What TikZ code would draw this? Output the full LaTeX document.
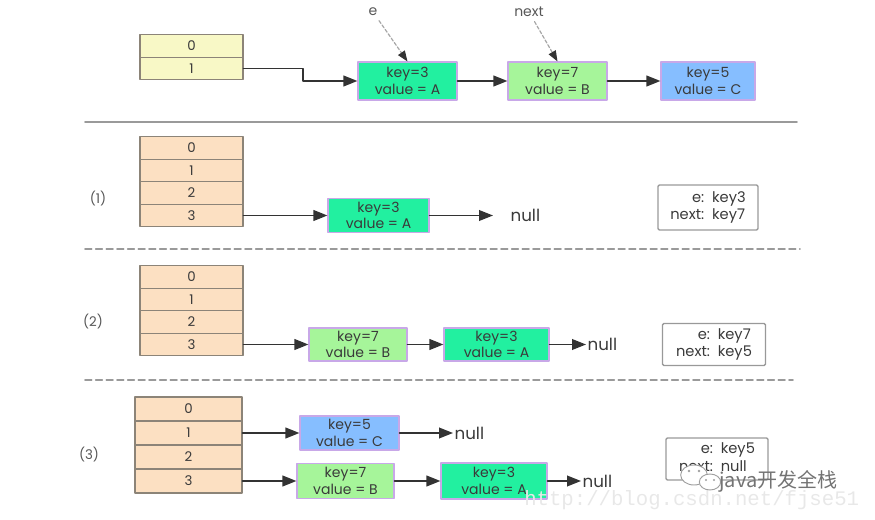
\documentclass[tikz,border=0pt]{standalone}
\usepackage{fontspec}
\setmainfont{Poppins}
\newfontfamily\cjkfont{Noto Sans CJK SC}
\newfontfamily\wmfont{Liberation Mono}
\usetikzlibrary{arrows.meta}

\definecolor{linkgray}{HTML}{333333}
\definecolor{rulegray}{HTML}{9A9A9A}
\definecolor{cellline}{HTML}{8C8478}
\definecolor{cellyellow}{HTML}{F8F8C6}
\definecolor{cellpeach}{HTML}{FCE0C2}
\definecolor{keyA}{HTML}{22F0A0}
\definecolor{keyB}{HTML}{A6F59A}
\definecolor{keyC}{HTML}{86BEFF}
\definecolor{entryline}{HTML}{C8A8E8}
\definecolor{textgray}{HTML}{3A3A3A}

\newcommand{\pxu}{0.75pt}

\tikzset{
  cell/.style={draw=cellline, fill=#1, line width=1pt, minimum width=103*\pxu,
    minimum height=22.5*\pxu, inner sep=0pt, text=textgray, font=\fontsize{10}{11}\selectfont},
  entry/.style={draw=entryline, fill=#1, line width=0.8pt, align=center, inner sep=0pt,
    minimum height=35*\pxu, text=textgray, font=\fontsize{10.5}{12.5}\selectfont},
  link/.style={draw=linkgray, line width=1.4pt, -{Triangle[length=10.5pt,width=8pt]}},
  ptr/.style={draw=gray!70, line width=0.9pt, dash pattern=on 2.5pt off 1.5pt,
    -{Triangle[length=8pt,width=6pt,color=linkgray]}},
  nulltxt/.style={text=textgray, font=\fontsize{12.5}{13}\selectfont, inner sep=1pt},
  steplbl/.style={text=textgray!85, font=\fontsize{10}{11}\selectfont},
  statebox/.style={draw=gray!80, line width=1pt, rounded corners=1pt, inner sep=0pt,
    text=textgray, font=\fontsize{11}{13}\selectfont},
}

\begin{document}
\begin{tikzpicture}[x=0.75pt, y=-0.75pt, line cap=round, line join=round]
    \useasboundingbox (0,0) rectangle (875,520);

    % --- before resize ---
    \foreach \i in {0,1}{
      \node[cell=cellyellow] (t\i) at (191.5,{46+22.5*\i}) {\i};
    }
    \node[entry=keyA, minimum width=99*\pxu, minimum height=38*\pxu] (tA) at (407.5,81) {key=3\\value = A};
    \node[entry=keyB, minimum width=99*\pxu, minimum height=38*\pxu] (tB) at (557.5,81) {key=7\\value = B};
    \node[entry=keyC, minimum width=94*\pxu, minimum height=38*\pxu] (tC) at (708,81) {key=5\\value = C};
    \node[steplbl, font=\fontsize{10.5}{11}\selectfont] (pe) at (373,12) {e};
    \node[steplbl, font=\fontsize{10.5}{11}\selectfont] (pnext) at (529,12) {next};

    \draw[link] (t1.east) -- ++(59,0) |- (tA.west);
    \draw[link] (tA) -- (tB);
    \draw[link] (tB) -- (tC);
    \draw[ptr] (pe) -- (tA.north);
    \draw[ptr] (pnext) -- (tB.north);

    \draw[rulegray, line width=1.4pt] (85,122) -- (797,122);

    % --- step (1) ---
    \foreach \i in {0,...,3}{
      \node[cell=cellpeach] (a\i) at (191.5,{148+22.5*\i}) {\i};
    }
    \node[steplbl] (l1) at (98,199) {(1)};
    \node[entry=keyA, minimum width=101*\pxu, minimum height=34*\pxu] (aA) at (378.5,215.5) {key=3\\value = A};
    \node[nulltxt, anchor=west] (an) at (509,215.5) {null};
    \node[statebox, minimum width=100*\pxu, minimum height=45*\pxu] (as) at (708,207.5)
      {\begin{tabular}{@{}r@{\ \ }l@{}}e: & key3\\ next: & key7\end{tabular}};

    \draw[link] (a3.east) -- (aA.west);
    \draw[link, shorten >=12pt] (aA.east) -- (an.west);

    \draw[rulegray, line width=1.2pt, dash pattern=on 5pt off 3pt] (85,249) -- (800,249);

    % --- step (2) ---
    \foreach \i in {0,...,3}{
      \node[cell=cellpeach] (b\i) at (191.5,{277+22.5*\i}) {\i};
    }
    \node[steplbl] (l2) at (93,322) {(2)};
    \node[entry=keyB, minimum width=98*\pxu, minimum height=33*\pxu] (bB) at (358,344.5) {key=7\\value = B};
    \node[entry=keyA, minimum width=105*\pxu, minimum height=33*\pxu] (bA) at (496.5,344.5) {key=3\\value = A};
    \node[nulltxt, anchor=west] (bn) at (586,344.5) {null};
    \node[statebox, minimum width=103*\pxu, minimum height=42*\pxu] (bs) at (714,344.5)
      {\begin{tabular}{@{}r@{\ \ }l@{}}e: & key7\\ next: & key5\end{tabular}};

    \draw[link] (b3.east) -- (bB.west);
    \draw[link] (bB.east) -- (bA.west);
    \draw[link] (bA.east) -- (bn.west);

    \draw[rulegray, line width=1.2pt, dash pattern=on 5pt off 3pt] (85,380) -- (793,380);

    % --- step (3) ---
    \foreach \i in {0,...,3}{
      \node[cell=cellpeach, minimum width=107*\pxu, minimum height=24*\pxu] (c\i) at (188.5,{409+24*\i}) {\i};
    }
    \node[steplbl] (l3) at (89,455) {(3)};
    \node[entry=keyC, minimum width=99*\pxu, minimum height=34*\pxu] (cC) at (349.5,433) {key=5\\value = C};
    \node[nulltxt, anchor=west] (cn1) at (453,433) {null};
    \node[entry=keyB, minimum width=97*\pxu, minimum height=35*\pxu] (cB) at (345.5,481) {key=7\\value = B};
    \node[entry=keyA, minimum width=106*\pxu, minimum height=36*\pxu] (cA) at (494,481) {key=3\\value = A};
    \node[nulltxt, anchor=west] (cn2) at (581,481) {null};
    \node[statebox, minimum width=102*\pxu, minimum height=42*\pxu] (cs) at (717,459)
      {\begin{tabular}{@{}r@{\ \ }l@{}}e: & key5\\ next: & null\end{tabular}};

    \draw[link] (c1.east) -- (cC.west);
    \draw[link] (cC.east) -- (cn1.west);
    \draw[link] (c3.east) -- (cB.west);
    \draw[link] (cB.east) -- (cA.west);
    \draw[link] (cA.east) -- (cn2.west);

    % watermarks
    \node[anchor=base west, text=gray!18, font=\wmfont\fontsize{15.5}{16}\selectfont, inner sep=0pt]
      (wurl) at (524,505) {http://blog.csdn.net/fjse51};
    \draw[gray!75, fill=white, line width=0.7pt] (694,475) ellipse (10pt and 7.5pt);
    \draw[gray!75, fill=white, line width=0.7pt] (710,482) ellipse (8pt and 6pt);
    \foreach \dx in {689,699}{
      \fill[gray!75] (\dx,471) circle (1pt);
    }
    \foreach \dx in {706,714}{
      \fill[gray!75] (\dx,480) circle (0.9pt);
    }
    \node[anchor=base west, text=gray!90!black, font=\cjkfont\fontsize{15}{16}\selectfont, inner sep=0pt]
      (wname) at (719,487) {java开发全栈};
\end{tikzpicture}
\end{document}
